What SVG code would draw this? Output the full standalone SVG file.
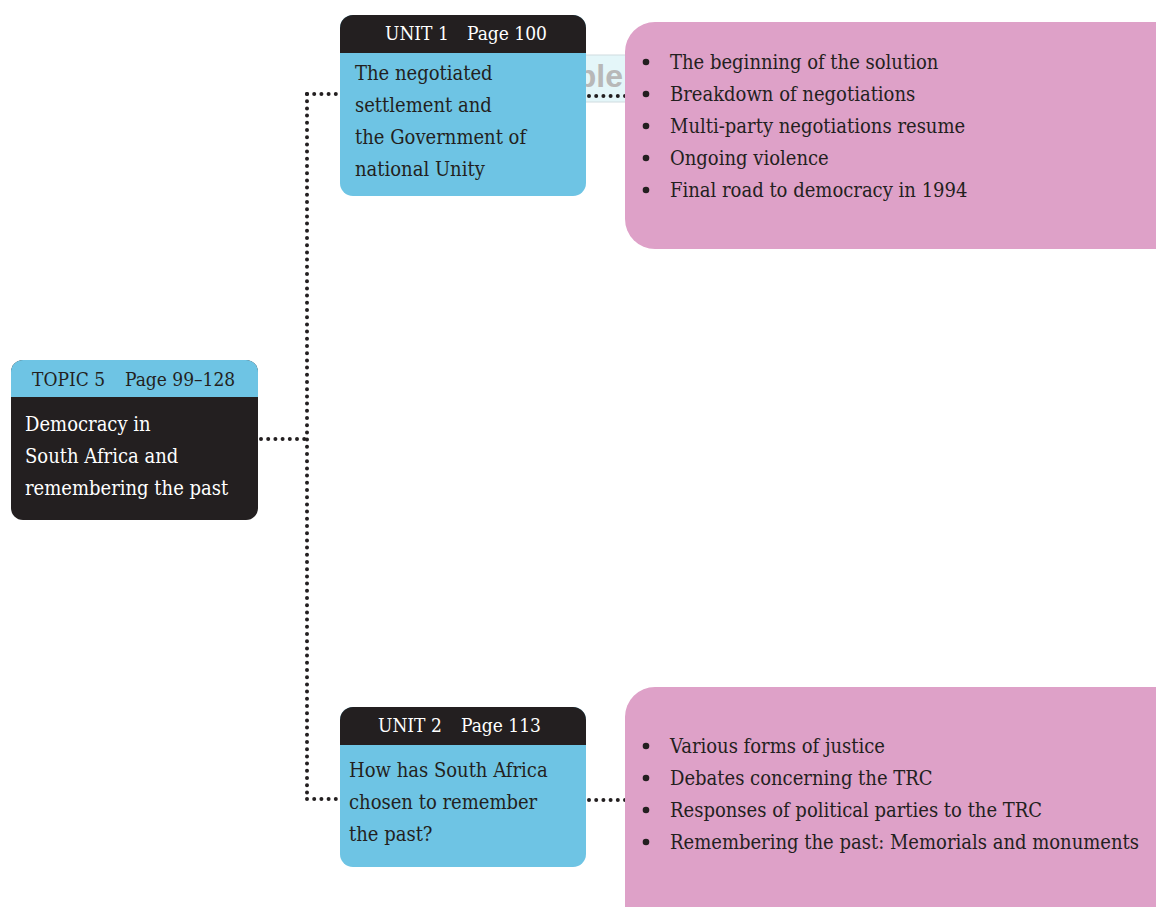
<svg xmlns="http://www.w3.org/2000/svg" width="1156" height="907" viewBox="0 0 1156 907">
<style>
.t{font-family:"DejaVu Serif Condensed","DejaVu Serif",serif;font-stretch:condensed}
.h{font-size:19px}
.b{font-size:20px}
.w{fill:#ffffff}
.k{fill:#231f20}
.dot{fill:none;stroke:#231f20;stroke-width:4;stroke-linecap:round;stroke-dasharray:0 7.2}
.pink{fill:#dea1c8}
.blue{fill:#6ec4e4}
.dark{fill:#231f20}
</style>
<rect width="1156" height="907" fill="#ffffff"/>
<g id="watermark">
<rect x="560" y="55" width="66" height="47" fill="#e4f6f9" stroke="#d0dcdf" stroke-width="1"/>
<text x="623" y="87" text-anchor="end" font-family="Liberation Sans, sans-serif" font-weight="bold" font-size="32" fill="#b8b8b8">ple</text>
</g>
<g id="connectors">
<path class="dot" d="M261 439 H307"/>
<path class="dot" d="M307 94 V799"/>
<path class="dot" d="M307 94 H340"/>
<path class="dot" d="M307 799 H340"/>
<path class="dot" d="M589 96 H625"/>
<path class="dot" d="M589 800 H625"/>
</g>
<g id="topic5">
<rect x="11" y="360" width="247" height="160" rx="12" class="dark"/>
<path d="M11 397 V372 A12 12 0 0 1 23 360 H246 A12 12 0 0 1 258 372 V397 Z" class="blue"/>
<text class="t h k" x="32" y="386">TOPIC 5</text>
<text class="t h k" x="125" y="386">Page 99–128</text>
<text class="t b w" x="25" y="431">Democracy in</text>
<text class="t b w" x="25" y="463">South Africa and</text>
<text class="t b w" x="25" y="495">remembering the past</text>
</g>
<g id="unit1">
<rect x="340" y="15" width="246" height="181" rx="13" class="blue"/>
<path d="M340 53 V28 A13 13 0 0 1 353 15 H573 A13 13 0 0 1 586 28 V53 Z" class="dark"/>
<text class="t h w" x="385" y="40">UNIT 1</text>
<text class="t h w" x="467" y="40">Page 100</text>
<text class="t b k" x="355" y="80">The negotiated</text>
<text class="t b k" x="355" y="112">settlement and</text>
<text class="t b k" x="355" y="144">the Government of</text>
<text class="t b k" x="355" y="176">national Unity</text>
</g>
<g id="unit2">
<rect x="340" y="707" width="246" height="160" rx="13" class="blue"/>
<path d="M340 745 V720 A13 13 0 0 1 353 707 H573 A13 13 0 0 1 586 720 V745 Z" class="dark"/>
<text class="t h w" x="378" y="732">UNIT 2</text>
<text class="t h w" x="461" y="732">Page 113</text>
<text class="t b k" x="349" y="777">How has South Africa</text>
<text class="t b k" x="349" y="809">chosen to remember</text>
<text class="t b k" x="349" y="841">the past?</text>
</g>
<g id="list1">
<rect x="625" y="22" width="580" height="227" rx="30" class="pink"/>
<g class="k">
<circle cx="646" cy="62" r="3.3"/><circle cx="646" cy="94" r="3.3"/><circle cx="646" cy="126" r="3.3"/><circle cx="646" cy="158" r="3.3"/><circle cx="646" cy="190" r="3.3"/>
</g>
<text class="t b k" x="670" y="69">The beginning of the solution</text>
<text class="t b k" x="670" y="101">Breakdown of negotiations</text>
<text class="t b k" x="670" y="133">Multi-party negotiations resume</text>
<text class="t b k" x="670" y="165">Ongoing violence</text>
<text class="t b k" x="670" y="197">Final road to democracy in 1994</text>
</g>
<g id="list2">
<rect x="625" y="687" width="580" height="260" rx="30" class="pink"/>
<g class="k">
<circle cx="646" cy="746" r="3.3"/><circle cx="646" cy="778" r="3.3"/><circle cx="646" cy="810" r="3.3"/><circle cx="646" cy="842" r="3.3"/>
</g>
<text class="t b k" x="670" y="753">Various forms of justice</text>
<text class="t b k" x="670" y="785">Debates concerning the TRC</text>
<text class="t b k" x="670" y="817">Responses of political parties to the TRC</text>
<text class="t b k" x="670" y="849">Remembering the past: Memorials and monuments</text>
</g>
</svg>
